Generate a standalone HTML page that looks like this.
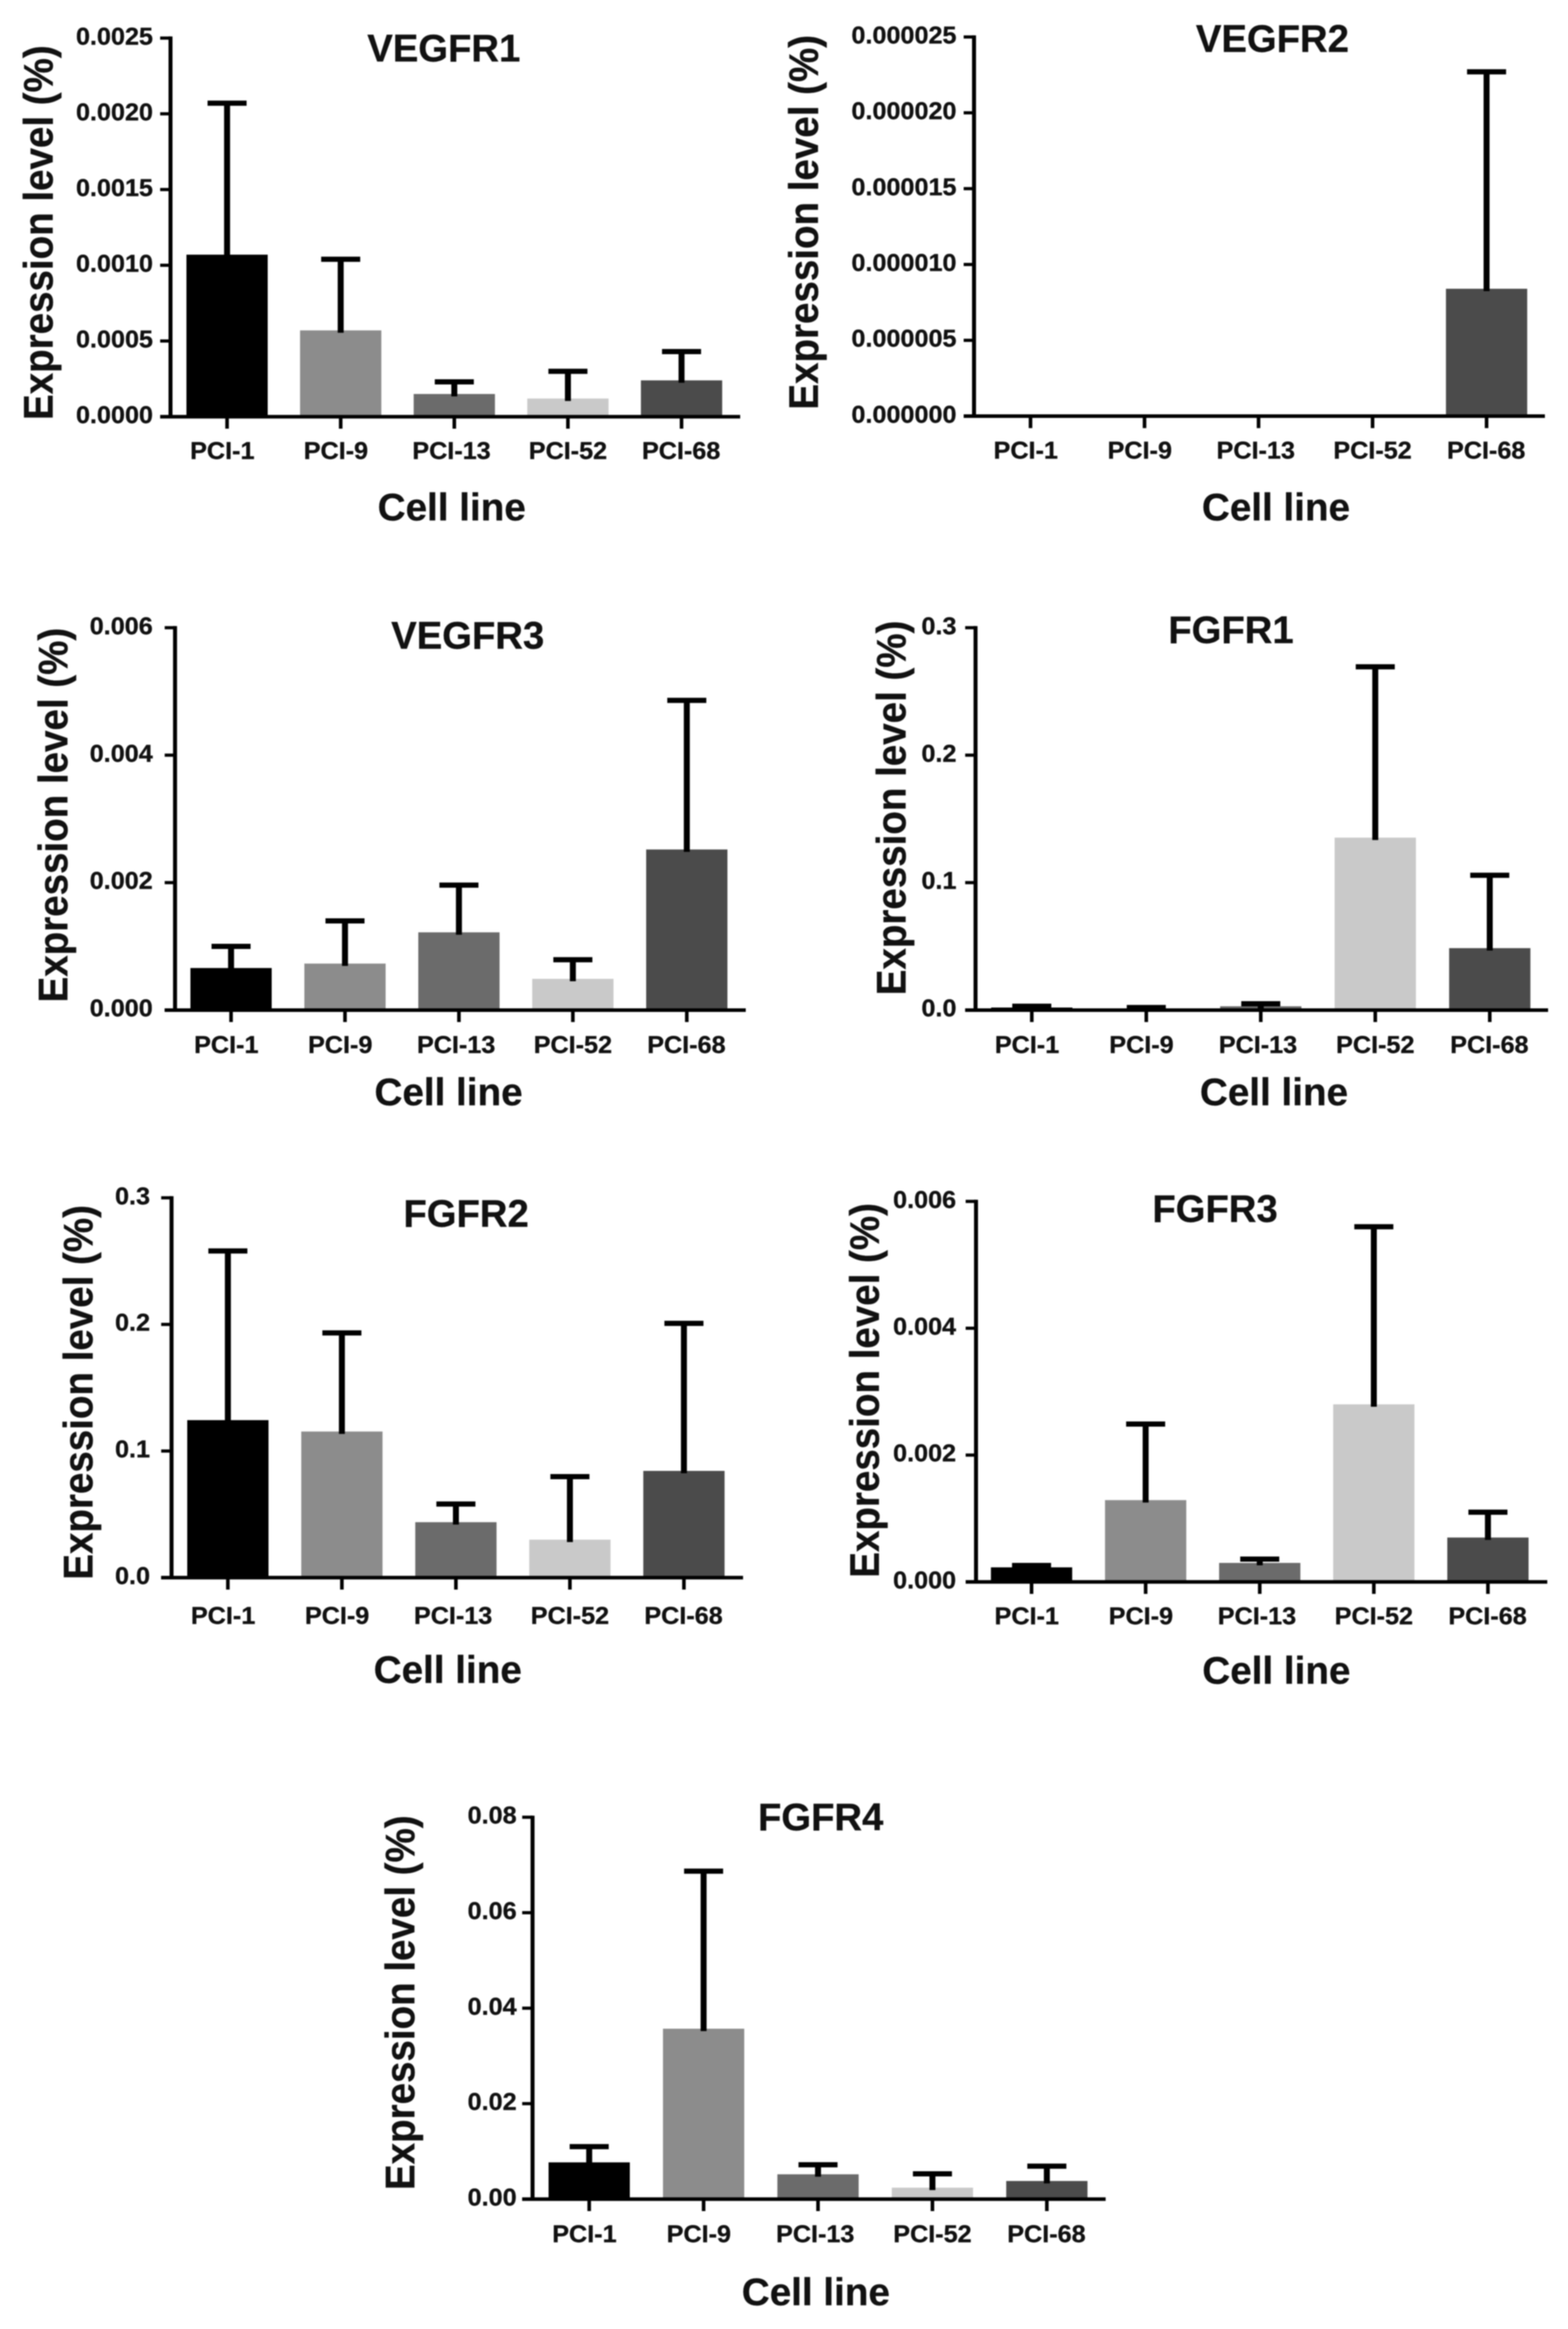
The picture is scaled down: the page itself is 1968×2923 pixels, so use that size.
<!DOCTYPE html>
<html lang="en">
<head>
<meta charset="utf-8">
<title>Receptor expression levels by cell line</title>
<style>
  html, body { margin: 0; padding: 0; background: #fff; }
  #figure { display: block; width: 1968px; height: 2923px; filter: blur(0.8px); }
  text { font-family: "Liberation Sans", sans-serif; font-weight: bold; fill: #111; stroke: #111; stroke-width: 0.4px; }
</style>
</head>
<body>
<svg id="figure" xmlns="http://www.w3.org/2000/svg" width="1968" height="2923" viewBox="0 0 1968 2923"></svg>
<script>
// ---- Data ----
const categories = ['PCI-1', 'PCI-9', 'PCI-13', 'PCI-52', 'PCI-68'];

const vegfr1Means = [0.00107, 0.00057, 0.00015, 0.00012, 0.00024];
const vegfr1Upper = [0.00207, 0.00104, 0.00023, 0.00030, 0.00043];
const vegfr1Ticks = ['0.0000', '0.0005', '0.0010', '0.0015', '0.0020', '0.0025'];

const vegfr2Means = [0, 0, 0, 0, 0.0000084];
const vegfr2Upper = [0, 0, 0, 0, 0.0000227];
const vegfr2Ticks = ['0.000000', '0.000005', '0.000010', '0.000015', '0.000020', '0.000025'];

const vegfr3Means = [0.00066, 0.00073, 0.00122, 0.00049, 0.00252];
const vegfr3Upper = [0.00100, 0.00140, 0.00196, 0.00079, 0.00486];
const vegfr3Ticks = ['0.000', '0.002', '0.004', '0.006'];

const fgfr1Means = [0.002, 0.001, 0.003, 0.1353, 0.0486];
const fgfr1Upper = [0.003, 0.002, 0.005, 0.2693, 0.1058];
const fgfr1Ticks = ['0.0', '0.1', '0.2', '0.3'];

const fgfr2Means = [0.1244, 0.1154, 0.0438, 0.0300, 0.0843];
const fgfr2Upper = [0.2580, 0.1933, 0.0581, 0.0798, 0.2008];
const fgfr2Ticks = ['0.0', '0.1', '0.2', '0.3'];

const fgfr3Means = [0.00023, 0.00129, 0.00030, 0.00280, 0.00070];
const fgfr3Upper = [0.00026, 0.00249, 0.00036, 0.00560, 0.00110];
const fgfr3Ticks = ['0.000', '0.002', '0.004', '0.006'];

const fgfr4Means = [0.0077, 0.0357, 0.0052, 0.0024, 0.0038];
const fgfr4Upper = [0.0110, 0.0687, 0.0072, 0.0053, 0.0069];
const fgfr4Ticks = ['0.00', '0.02', '0.04', '0.06', '0.08'];

// ---- Styling and layout (not data) ----
const barFills = ['#000000', '#8c8c8c', '#6b6b6b', '#c9c9c9', '#4b4b4b'];
const labelNudge = [-6, -6, -3.5, 0, -0.5];

const panels = [
  { key: 'vegfr1', title: 'VEGFR1', means: vegfr1Means, upper: vegfr1Upper, ticks: vegfr1Ticks,
    axisX: 214, top: 47.8, base: 523, right: 929, firstX: 285, stepX: 142.6,
    tickGap: 22, catDrop: 53, titleX: 557, titleY: 77, cellX: 567, cellY: 653, yTitleX: 66, yTitleY: 292 },
  { key: 'vegfr2', title: 'VEGFR2', means: vegfr2Means, upper: vegfr2Upper, ticks: vegfr2Ticks,
    axisX: 1222.5, top: 46.4, base: 522.3, right: 1939, firstX: 1293.4, stepX: 143.1,
    tickGap: 22, catDrop: 53, titleX: 1597, titleY: 65, cellX: 1601.5, cellY: 653, yTitleX: 1026.7, yTitleY: 279 },
  { key: 'vegfr3', title: 'VEGFR3', means: vegfr3Means, upper: vegfr3Upper, ticks: vegfr3Ticks,
    axisX: 219.7, top: 787.8, base: 1267.7, right: 936, firstX: 290, stepX: 143,
    tickGap: 28, catDrop: 54, titleX: 587, titleY: 814, cellX: 563, cellY: 1387, yTitleX: 84.7, yTitleY: 1023 },
  { key: 'fgfr1', title: 'FGFR1', means: fgfr1Means, upper: fgfr1Upper, ticks: fgfr1Ticks,
    axisX: 1224.4, top: 787.8, base: 1267.7, right: 1943, firstX: 1295, stepX: 143.7,
    tickGap: 24, catDrop: 54, titleX: 1545, titleY: 807, cellX: 1599, cellY: 1387, yTitleX: 1136.5, yTitleY: 1014 },
  { key: 'fgfr2', title: 'FGFR2', means: fgfr2Means, upper: fgfr2Upper, ticks: fgfr2Ticks,
    axisX: 215.3, top: 1503.3, base: 1980, right: 932.6, firstX: 286, stepX: 143.1,
    tickGap: 27, catDrop: 58, titleX: 585, titleY: 1539.5, cellX: 562, cellY: 2112, yTitleX: 116, yTitleY: 1747.5 },
  { key: 'fgfr3', title: 'FGFR3', means: fgfr3Means, upper: fgfr3Upper, ticks: fgfr3Ticks,
    axisX: 1225, top: 1507.8, base: 1985.4, right: 1942, firstX: 1294.7, stepX: 143.2,
    tickGap: 25, catDrop: 53, titleX: 1525, titleY: 1533.6, cellX: 1602, cellY: 2113, yTitleX: 1103, yTitleY: 1745 },
  { key: 'fgfr4', title: 'FGFR4', means: fgfr4Means, upper: fgfr4Upper, ticks: fgfr4Ticks,
    axisX: 668.4, top: 2280.7, base: 2760, right: 1387.7, firstX: 739.5, stepX: 143.6,
    tickGap: 20, catDrop: 54, titleX: 1030, titleY: 2297, cellX: 1024, cellY: 2893, yTitleX: 520, yTitleY: 2513.5 }
];

const SVG_NS = 'http://www.w3.org/2000/svg';
const root = document.getElementById('figure');

function mk(parent, tag, attrs, content) {
  const node = document.createElementNS(SVG_NS, tag);
  for (const k in attrs) node.setAttribute(k, attrs[k]);
  if (content !== undefined) node.textContent = content;
  parent.appendChild(node);
  return node;
}

panels.forEach(function (p) {
  const tickValues = p.ticks.map(Number);
  const domainMax = Math.max.apply(null, tickValues);
  const yScale = function (v) { return p.base - (v / domainMax) * (p.base - p.top); };
  const xScale = function (i) { return p.firstX + i * p.stepX; };

  const group = mk(root, 'g', {});
  
  

  const title = mk(group, 'text', { transform: 'translate(' + p.titleX + ',' + p.titleY + ') scale(1.0,1)', 'text-anchor': 'middle', 'font-size': 48 }, p.title);
  
  

  const yTitle = mk(group, 'text', { transform: 'translate(' + p.yTitleX + ',' + p.yTitleY + ') rotate(-90) scale(0.93,1)', 'text-anchor': 'middle', 'font-size': 52 }, 'Expression level (%)');
  
  

  const xTitle = mk(group, 'text', { transform: 'translate(' + p.cellX + ',' + p.cellY + ') scale(1.01,1)', 'text-anchor': 'middle', 'font-size': 48 }, 'Cell line');
  
  

  categories.forEach(function (cat, i) {
    const cx = xScale(i);
    const meanY = yScale(p.means[i]);
    const upperY = yScale(p.upper[i]);

    const bar = mk(group, 'rect', { x: cx - 51, y: meanY, width: 102, height: Math.max(0, p.base - meanY), fill: barFills[i] });
    
    

    if (p.means[i] !== 0 || p.upper[i] !== 0) {
      const stem = mk(group, 'line', { x1: cx, x2: cx, y1: upperY, y2: meanY + 3, stroke: '#000', 'stroke-width': 7.5 });
      
      

      const cap = mk(group, 'line', { x1: cx - 24.5, x2: cx + 24.5, y1: upperY, y2: upperY, stroke: '#000', 'stroke-width': 6.5 });
      
      
    }

    const xTick = mk(group, 'line', { x1: cx, x2: cx, y1: p.base, y2: p.base + 15, stroke: '#000', 'stroke-width': 4.5 });
    
    

    const catLabel = mk(group, 'text', { transform: 'translate(' + (cx + labelNudge[i]) + ',' + (p.base + p.catDrop) + ') scale(1.02,1)', 'text-anchor': 'middle', 'font-size': 31 }, cat);
    
    
  });

  p.ticks.forEach(function (label) {
    const ty = yScale(Number(label));

    const yTick = mk(group, 'line', { x1: p.axisX - 13, x2: p.axisX, y1: ty, y2: ty, stroke: '#000', 'stroke-width': 4 });
    
    

    const yLabel = mk(group, 'text', { transform: 'translate(' + (p.axisX - p.tickGap) + ',' + (ty + 8) + ') scale(1.02,1)', 'text-anchor': 'end', 'font-size': 31 }, label);
    
    
  });

  const yAxis = mk(group, 'line', { x1: p.axisX, x2: p.axisX, y1: p.top - 2, y2: p.base, stroke: '#000', 'stroke-width': 5 });
  
  

  const xAxis = mk(group, 'line', { x1: p.axisX - 13, x2: p.right, y1: p.base, y2: p.base, stroke: '#000', 'stroke-width': 4.5 });
  
  
});
</script>
</body>
</html>
